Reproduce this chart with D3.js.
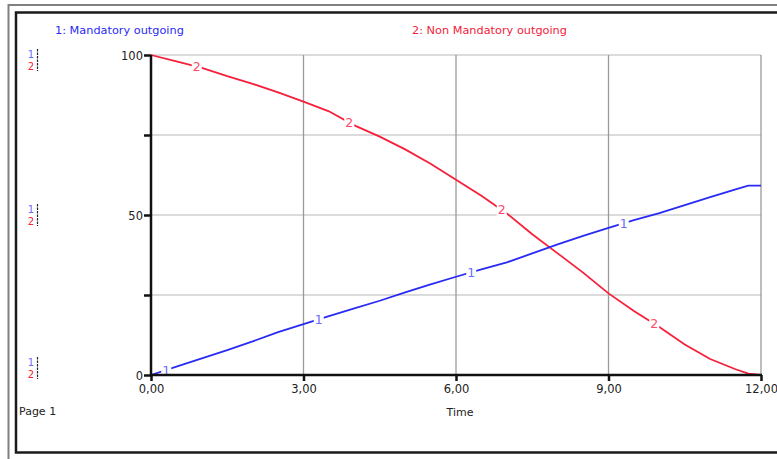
<!DOCTYPE html>
<html><head><meta charset="utf-8">
<script src="https://cdn.jsdelivr.net/npm/d3@7"></script>
<style>html,body{margin:0;padding:0;background:#fff;overflow:hidden}</style>
</head><body>
<svg id="c" width="777" height="459"></svg>
<script>
const times = [0,0.5,1,1.5,2,2.5,3,3.5,4,4.5,5,5.5,6,6.5,7,7.5,8,8.5,9,9.5,10,10.5,11,11.5,11.75,12];
const mandatory = [0,2.6,5.2,7.8,10.5,13.4,15.9,18.4,20.8,23.2,25.8,28.3,30.7,33,35.2,38,40.8,43.5,46,48.4,50.6,53.1,55.6,58,59.2,59.2];
const nonMandatory = [100,98,96,93.4,91,88.3,85.4,82.4,78,74.5,70.5,66,61,56,50.5,44,38,32,25.5,20,15,9.5,5,1.8,0.4,0];
const seriesNames = ["1: Mandatory outgoing","2: Non Mandatory outgoing"];
const xTicks = [0,3,6,9,12];
const xTickLabels = ["0,00","3,00","6,00","9,00","12,00"];
const yTicks = [0,25,50,75,100];
const yTickLabels = ["0","","50","","100"];
const blueLabelTimes = [0.3,3.3,6.3,9.3];
const redLabelTimes = [0.9,3.9,6.9,9.9];

const BLUE = "#2a2af5", RED = "#f5203a";
const FONT = "DejaVu Sans, Verdana, sans-serif";
const svg = d3.select("#c");

// frames
svg.append("rect").attr("x",8.5).attr("y",5).attr("width",800).attr("height",470)
  .attr("fill","none").attr("stroke","#808080").attr("stroke-width",2);
svg.append("rect").attr("x",16).attr("y",12.5).attr("width",800).attr("height",440)
  .attr("fill","none").attr("stroke","#1a1a1a").attr("stroke-width",2.5);

const x = d3.scaleLinear().domain([0,12]).range([151,761]);
const y = d3.scaleLinear().domain([0,100]).range([375,55]);

// grid
const g = svg.append("g");
g.selectAll(".hg").data(yTicks.filter(d=>d>0)).join("line")
  .attr("x1",x(0)).attr("x2",x(12)).attr("y1",d=>y(d)).attr("y2",d=>y(d))
  .attr("stroke","#cfcfcf").attr("stroke-width",1.3);
g.selectAll(".vg").data(xTicks.filter(d=>d>0)).join("line")
  .attr("x1",d=>x(d)).attr("x2",d=>x(d)).attr("y1",y(100)).attr("y2",y(0))
  .attr("stroke","#9a9a9a").attr("stroke-width",1.3);

// lines
const pts = (vals)=>times.map((t,i)=>[t,vals[i]]);
const line = d3.line().x(d=>x(d[0])).y(d=>y(d[1]));
const interp = (vals,t)=>{ for(let i=0;i<times.length-1;i++){ if(t>=times[i]&&t<=times[i+1]){const f=(t-times[i])/(times[i+1]-times[i]);return vals[i]+f*(vals[i+1]-vals[i]);} } return vals[vals.length-1]; };

svg.append("path").attr("d",line(pts(nonMandatory))).attr("fill","none").attr("stroke",RED).attr("stroke-width",1.8);
svg.append("path").attr("d",line(pts(mandatory))).attr("fill","none").attr("stroke",BLUE).attr("stroke-width",1.8);

function lineLabels(ts, vals, txt, col){
  const gg = svg.append("g");
  ts.forEach(t=>{
    const cx = x(t), cy = y(interp(vals,t));
    gg.append("rect").attr("x",cx-5).attr("y",cy-6.5).attr("width",10).attr("height",13).attr("fill","#fff");
    gg.append("text").attr("x",cx).attr("y",cy+4.5).attr("text-anchor","middle")
      .attr("font-family",FONT).attr("font-size",12.5).attr("fill",col).text(txt);
  });
}
lineLabels(blueLabelTimes, mandatory, "1", "#6b6bff");
lineLabels(redLabelTimes, nonMandatory, "2", "#ff4a66");

// axes
const yAxis = svg.append("g").attr("transform",`translate(${x(0)},0)`)
  .call(d3.axisLeft(y).tickValues(yTicks).tickSize(7).tickFormat((d,i)=>yTickLabels[i]));
yAxis.select(".domain").attr("stroke","#111").attr("stroke-width",2.5).attr("d",`M0,${y(100)}V${y(0)+1}`);
yAxis.selectAll(".tick line").attr("stroke","#111").attr("stroke-width",2.5);
yAxis.selectAll(".tick text").attr("font-family",FONT).attr("font-size",11.5).attr("fill","#222").attr("x",-8).attr("dy","0.36em");

const xAxis = svg.append("g").attr("transform",`translate(0,${y(0)})`)
  .call(d3.axisBottom(x).tickValues(xTicks).tickSize(6).tickFormat((d,i)=>xTickLabels[i]));
xAxis.select(".domain").attr("stroke","#111").attr("stroke-width",2.5).attr("d",`M${x(0)-1},0H${x(12)+1}`);
xAxis.selectAll(".tick line").attr("stroke","#111").attr("stroke-width",2.5);
xAxis.selectAll(".tick text").attr("font-family",FONT).attr("font-size",11.5).attr("fill","#222").attr("y",10);

svg.append("text").attr("x",460).attr("y",416).attr("text-anchor","middle")
  .attr("font-family",FONT).attr("font-size",11).attr("fill","#222").text("Time");
svg.append("text").attr("x",19).attr("y",415)
  .attr("font-family",FONT).attr("font-size",11).attr("fill","#222").text("Page 1");

// legend
svg.append("text").attr("x",55).attr("y",34).attr("font-family",FONT).attr("font-size",11.3).attr("fill",BLUE).text(seriesNames[0]);
svg.append("text").attr("x",412).attr("y",34).attr("font-family",FONT).attr("font-size",11.3).attr("fill",RED).text(seriesNames[1]);

// left scale indicators
[[100,5],[50,0],[0,-7]].forEach(([v,off])=>{
  const cy = y(v)+off;
  const gg = svg.append("g");
  gg.append("text").attr("x",34).attr("y",cy-2.5).attr("text-anchor","end").attr("font-family",FONT).attr("font-size",10).attr("fill","#6b6bff").text("1");
  gg.append("text").attr("x",34).attr("y",cy+9.5).attr("text-anchor","end").attr("font-family",FONT).attr("font-size",10).attr("fill",RED).text("2");
  gg.append("line").attr("x1",37.5).attr("x2",37.5).attr("y1",cy-11).attr("y2",cy+11)
    .attr("stroke","#222").attr("stroke-width",1.2).attr("stroke-dasharray","2.5,1");
});
</script>
</body></html>
